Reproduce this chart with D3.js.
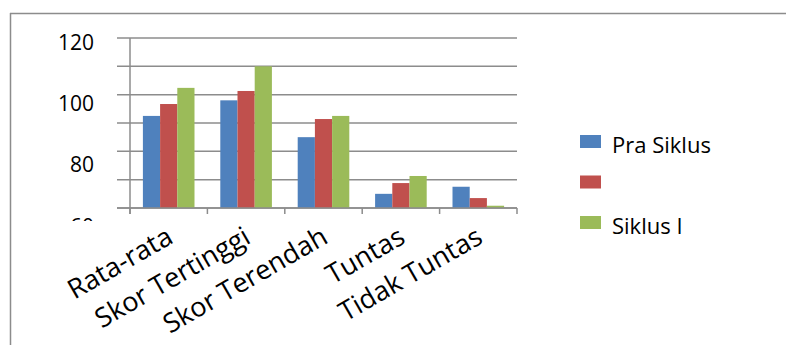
<!DOCTYPE html>
<html>
<head>
<meta charset="utf-8">
<script src="https://cdn.jsdelivr.net/npm/d3@7"></script>
<style>
  html, body { margin: 0; padding: 0; background: #fff; }
  svg { display: block; }
  text { font-family: "Open Sans", "Noto Sans", sans-serif; fill: #000; }
</style>
</head>
<body>
<svg id="chart" width="786" height="345"></svg>
<script>
// ---- data ----
const categories = ["Rata-rata", "Skor Tertinggi", "Skor Terendah", "Tuntas", "Tidak Tuntas"];
const seriesNames = ["Pra Siklus", "", "Siklus I"];
const praSiklus = [92.5, 98, 85, 65, 67.5];
const seriesTwo = [96.7, 101.3, 91.4, 68.8, 63.5];
const siklusI   = [102.4, 110, 92.5, 71.3, 60.8];
const yLabelTicks = [60, 80, 100, 120];
const yGridTicks = [60, 70, 80, 90, 100, 110, 120];
const colors = ["#4F81BD", "#C0504D", "#9BBB59"];

const seriesValues = [praSiklus, seriesTwo, siklusI];
const table = categories.map((c, i) => ({cat: c, vals: seriesValues.map(s => s[i])}));

const svg = d3.select("#chart");
const gridColor = "#8c8c8c";

// outer frame (partial, as in reference crop)
svg.append("line").attr("x1", 10).attr("x2", 786).attr("y1", 13.5).attr("y2", 13.5)
  .attr("stroke", gridColor).attr("stroke-width", 1.5);
svg.append("line").attr("x1", 10.5).attr("x2", 10.5).attr("y1", 13).attr("y2", 345)
  .attr("stroke", gridColor).attr("stroke-width", 1.5);

const plot = {left: 130, right: 517, top: 38, bottom: 208};

const x = d3.scaleBand().domain(categories).range([plot.left, plot.right]).paddingInner(0).paddingOuter(0);
const y = d3.scaleLinear().domain([60, 120]).range([plot.bottom, plot.top]);
const bw = x.bandwidth() / 4.5;
const xs = d3.scaleBand().domain(d3.range(3)).range([bw * 0.75, bw * 3.75]);

// grid lines (extend left as tick marks)
svg.append("g").selectAll("line").data(yGridTicks).join("line")
  .attr("x1", plot.left - 13).attr("x2", plot.right)
  .attr("y1", d => y(d)).attr("y2", d => y(d))
  .attr("stroke", gridColor).attr("stroke-width", 1.5);

// bars
const groups = svg.append("g").selectAll("g").data(table).join("g")
  .attr("transform", d => `translate(${x(d.cat)},0)`);
groups.selectAll("rect").data(d => d.vals.map((v, i) => ({v, i}))).join("rect")
  .attr("x", d => xs(d.i))
  .attr("width", xs.bandwidth())
  .attr("y", d => y(d.v))
  .attr("height", d => y(60) - y(d.v))
  .attr("fill", d => colors[d.i]);

// y axis line
svg.append("line").attr("x1", plot.left).attr("x2", plot.left)
  .attr("y1", plot.top).attr("y2", plot.bottom + 6)
  .attr("stroke", gridColor).attr("stroke-width", 1.5);
// x axis line
svg.append("line").attr("x1", plot.left - 13).attr("x2", plot.right)
  .attr("y1", plot.bottom).attr("y2", plot.bottom)
  .attr("stroke", gridColor).attr("stroke-width", 1.5);
// x ticks
const xTickPos = categories.map(c => x(c)).concat([x.range()[1]]);
svg.append("g").selectAll("line").data(xTickPos).join("line")
  .attr("x1", d => d).attr("x2", d => d)
  .attr("y1", plot.bottom).attr("y2", plot.bottom + 6)
  .attr("stroke", gridColor).attr("stroke-width", 1.5);

// y labels (placed via scale copy, clipped at bottom as in reference)
const yLab = y.copy().range([226, 42.5]);
svg.append("clipPath").attr("id", "ylabclip").append("rect")
  .attr("x", 0).attr("y", 0).attr("width", 120).attr("height", 221);
svg.append("g").attr("clip-path", "url(#ylabclip)")
  .selectAll("text").data(yLabelTicks).join("text")
  .attr("x", 94).attr("y", d => yLab(d))
  .attr("dy", "0.36em")
  .attr("text-anchor", "end")
  .attr("font-size", 21)
  .text(d => d);

// category labels
const angle = -30;
svg.append("g").selectAll("text").data(categories).join("text")
  .attr("transform", c => `translate(${x(c) + x.bandwidth() / 2 + 6},242) rotate(${angle})`)
  .attr("text-anchor", "end")
  .attr("font-size", 27)
  .text(c => c);

// legend
const legend = svg.append("g").selectAll("g").data(seriesNames).join("g")
  .attr("transform", (d, i) => `translate(580,${135 + i * 40.5})`);
legend.append("rect").attr("width", 21).attr("height", 13).attr("fill", (d, i) => colors[i]);
legend.append("text").attr("x", 32).attr("y", 18).attr("font-size", 22).text(d => d);
</script>
</body>
</html>
